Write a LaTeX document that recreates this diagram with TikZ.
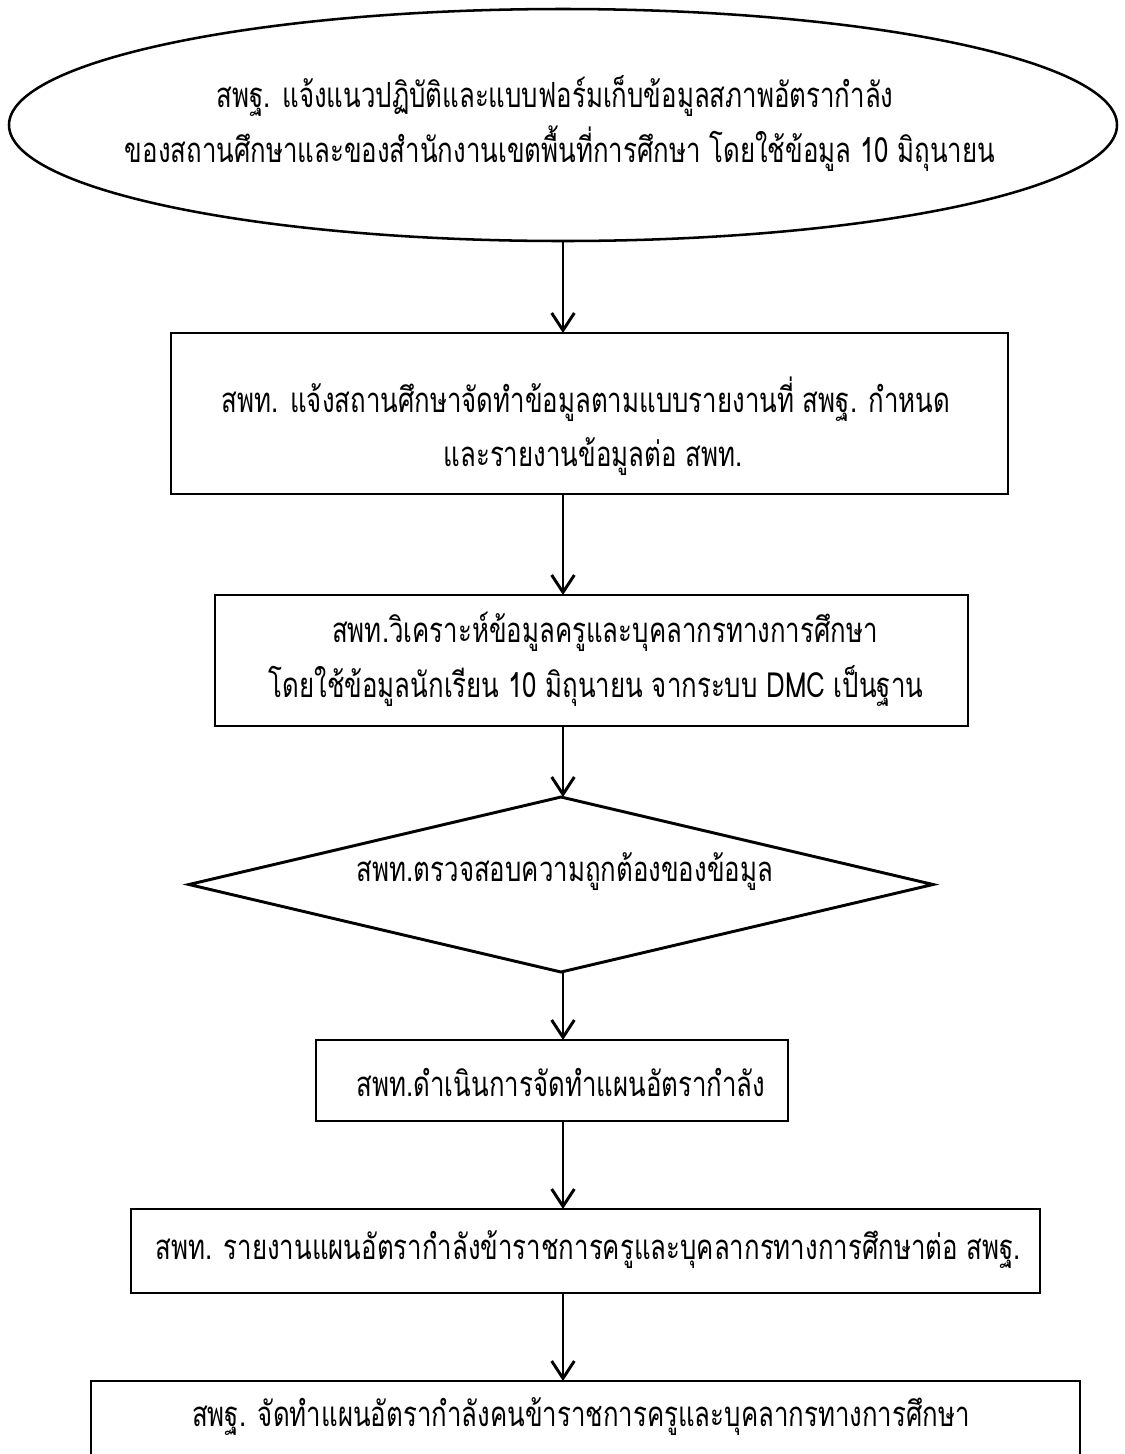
\documentclass[tikz,border=0pt]{standalone}
\usepackage{fontspec}
\newfontfamily\thaifont[Script=Thai,FakeStretch=0.745]{Loma}
\usetikzlibrary{shapes.geometric,arrows.meta}
\tikzset{
  shp/.style={draw=black,line width=2.2pt,inner sep=0pt,outer sep=0pt},
  boxshape/.style={shp,rectangle},
  txt/.style={font=\thaifont\fontsize{26pt}{41pt}\selectfont,inner sep=0pt,anchor=base},
  flow/.style={line width=2.2pt,-{Straight Barb[length=13pt,width=17pt,line width=2.2pt]}},
}
\begin{document}
\begin{tikzpicture}[x=0.75pt,y=-0.75pt]
\useasboundingbox (0,0) rectangle (1125,1454);
\clip (0,0) rectangle (1125,1454);
\fill[white] (0,0) rectangle (1125,1454);
% shapes
\node[shp,ellipse,line width=1.9pt,minimum width=831pt,minimum height=174pt] (s0) at (563,125) {};
\node[boxshape,minimum width=627.75pt,minimum height=120.75pt] (s1) at (589.5,413.5) {};
\node[boxshape,minimum width=564.75pt,minimum height=98.25pt] (s2) at (591.5,660.5) {};
\node[shp,diamond,minimum width=558pt,minimum height=131.25pt] (s3) at (561,884.5) {};
\node[boxshape,minimum width=354pt,minimum height=60.75pt] (s4) at (552,1080.5) {};
\node[boxshape,minimum width=681.75pt,minimum height=63pt] (s5) at (585.5,1251) {};
\node[boxshape,minimum width=741.75pt,minimum height=89.25pt] (s6) at (585.5,1440.5) {};
% texts
\node[txt] (t0a) at (555,107) {สพฐ. แจ้งแนวปฏิบัติและแบบฟอร์มเก็บข้อมูลสภาพอัตรากำลัง};
\node[txt] (t0b) at (560,162) {ของสถานศึกษาและของสำนักงานเขตพื้นที่การศึกษา โดยใช้ข้อมูล 10 มิถุนายน};
\node[txt] (t1a) at (586,412) {สพท. แจ้งสถานศึกษาจัดทำข้อมูลตามแบบรายงานที่ สพฐ. กำหนด};
\node[txt] (t1b) at (593,466) {และรายงานข้อมูลต่อ สพท.};
\node[txt] (t2a) at (605,642) {สพท.วิเคราะห์ข้อมูลครูและบุคลากรทางการศึกษา};
\node[txt] (t2b) at (596,697) {โดยใช้ข้อมูลนักเรียน 10 มิถุนายน จากระบบ DMC เป็นฐาน};
\node[txt] (t3) at (565,881) {สพท.ตรวจสอบความถูกต้องของข้อมูล};
\node[txt] (t4) at (561,1096) {สพท.ดำเนินการจัดทำแผนอัตรากำลัง};
\node[txt] (t5) at (588,1259) {สพท. รายงานแผนอัตรากำลังข้าราชการครูและบุคลากรทางการศึกษาต่อ สพฐ.};
\node[txt] (t6) at (581,1426) {สพฐ. จัดทำแผนอัตรากำลังคนข้าราชการครูและบุคลากรทางการศึกษา};
% connectors (common axis x = centre of the ellipse)
\draw[flow] (s0.south) -- (s0.south |- s1.north);
\draw[flow] (s1.south -| s0.south) -- (s2.north -| s0.south);
\draw[flow] (s2.south -| s0.south) -- (s3.north -| s0.south);
\draw[flow] (s3.south -| s0.south) -- (s4.north -| s0.south);
\draw[flow] (s4.south -| s0.south) -- (s5.north -| s0.south);
\draw[flow] (s5.south -| s0.south) -- (s6.north -| s0.south);
\end{tikzpicture}
\end{document}
